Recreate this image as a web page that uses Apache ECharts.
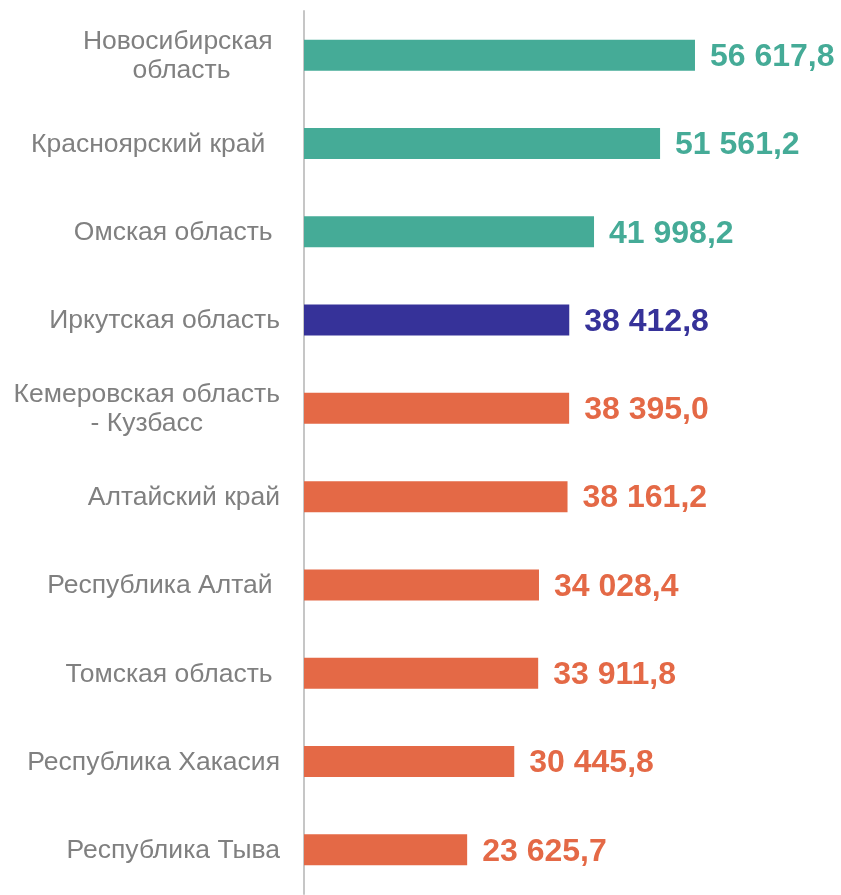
<!DOCTYPE html>
<html>
<head>
<meta charset="utf-8">
<script src="https://cdn.jsdelivr.net/npm/echarts@6/dist/echarts.min.js"></script>
<style>
  html, body { margin: 0; padding: 0; background: #fff; }
  #chart { width: 841px; height: 895px; }
</style>
</head>
<body>
<div id="chart"></div>
<script>
// regions, top to bottom
const regions = [
  'Новосибирская \nобласть',
  'Красноярский край  ',
  'Омская область ',
  'Иркутская область',
  'Кемеровская область\n- Кузбасс',
  'Алтайский край',
  'Республика Алтай ',
  'Томская область ',
  'Республика Хакасия',
  'Республика Тыва'
];
const values = [56617.8, 51561.2, 41998.2, 38412.8, 38395.0, 38161.2, 34028.4, 33911.8, 30445.8, 23625.7];
// colour group per bar: 0 = above, 1 = Irkutsk, 2 = below
const groups = [0, 0, 0, 1, 2, 2, 2, 2, 2, 2];
const groupColors = ['#45AB97', '#363299', '#E46946'];

const font = '"Liberation Sans", Arial, sans-serif';

const fmt = v => {
  const [i, d] = v.toFixed(1).split('.');
  return i.replace(/\B(?=(\d{3})+(?!\d))/g, ' ') + ',' + d;
};

const chart = echarts.init(document.getElementById('chart'));
chart.setOption({
  animation: false,
  grid: { left: 304, top: 11, width: 483.4, bottom: 1, containLabel: false },
  xAxis: {
    type: 'value', min: 0, max: 70000,
    show: false
  },
  yAxis: {
    type: 'category',
    inverse: true,
    data: regions,
    axisLine: { show: true, lineStyle: { color: '#c6c6c6', width: 2 } },
    axisTick: { show: false },
    axisLabel: {
      margin: 24,
      formatter: v => v.split('\n').map(s => '{a|' + s + '}').join('\n'),
      rich: {
        a: {
          align: 'center',
          color: '#808080',
          fontSize: 26.5,
          lineHeight: 28.5,
          fontFamily: font,
          padding: [2, 0, 0, 0]
        }
      }
    }
  },
  series: [{
    type: 'bar',
    barWidth: 31,
    data: values.map((v, i) => ({
      value: v,
      itemStyle: { color: groupColors[groups[i]] },
      label: { color: groupColors[groups[i]] }
    })),
    label: {
      show: true,
      position: 'right',
      distance: 15,
      fontSize: 32,
      fontWeight: 'bold',
      fontFamily: font,
      offset: [0, 2],
      formatter: p => fmt(p.value)
    }
  }]
});
</script>
</body>
</html>
